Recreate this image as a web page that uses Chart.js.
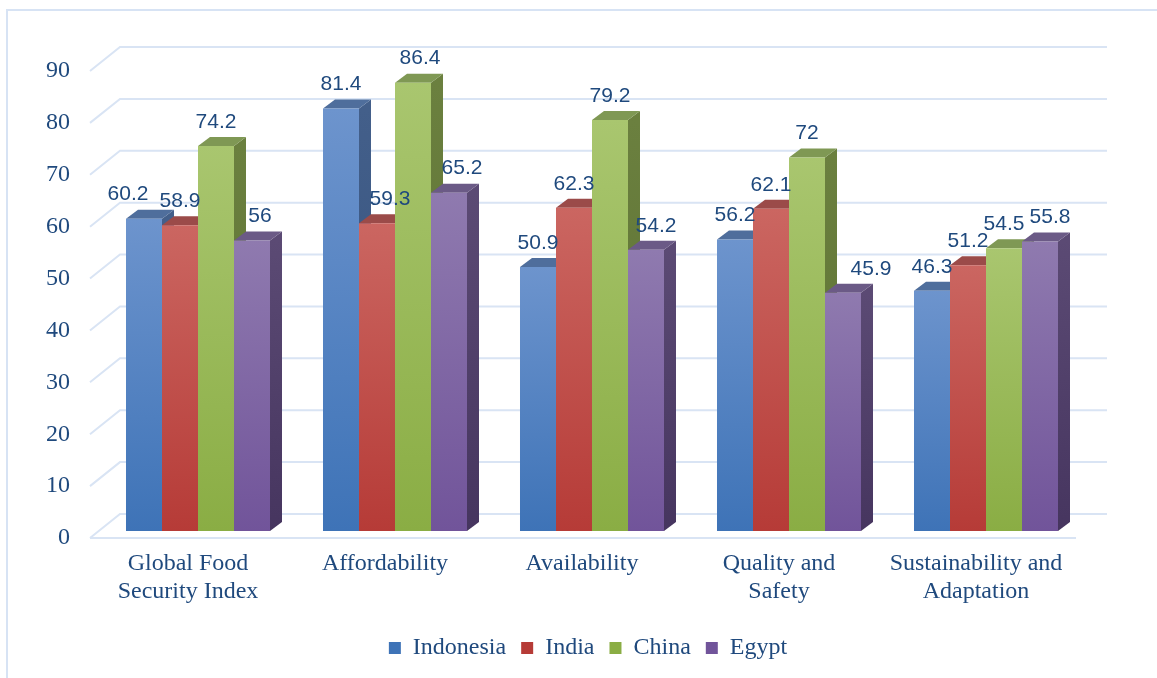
<!DOCTYPE html>
<html>
<head>
<meta charset="utf-8">
<script src="https://cdn.jsdelivr.net/npm/chart.js@4"></script>
<style>
  body { margin: 0; background: #fff; }
  #frame { position: absolute; left: 6px; top: 9px; width: 1200px; height: 700px;
           border-left: 2px solid #d7e3f4; border-top: 2px solid #d7e3f4; }
  #migrafica { position: absolute; left: 0; top: 0; }
</style>
</head>
<body>
<div id="frame"></div>
<canvas id="migrafica" width="1157" height="678"></canvas>
<script>
// categorias y valores
var categorias = [
  ["Global Food", "Security Index"],
  ["Affordability"],
  ["Availability"],
  ["Quality and", "Safety"],
  ["Sustainability and", "Adaptation"],
];
var paises = ["Indonesia", "India", "China", "Egypt"];
var indonesia = [60.2, 81.4, 50.9, 56.2, 46.3];
var india = [58.9, 59.3, 62.3, 62.1, 51.2];
var china = [74.2, 86.4, 79.2, 72, 54.5];
var egypt = [56, 65.2, 54.2, 45.9, 55.8];
var ejeY = { min: 0, max: 90, paso: 10 };

// colores: frente (arriba, abajo), lado (arriba, abajo), tapa
var colores = [
  { f1: "#6d94cd", f2: "#3e73b7", s1: "#435f8a", s2: "#33507c", t: "#4f6e9c", solido: "#4f81bd" },
  { f1: "#cb6661", f2: "#b63b37", s1: "#8f3d3b", s2: "#7c2e2c", t: "#9b4b49", solido: "#c0504d" },
  { f1: "#a9c66f", f2: "#8aad44", s1: "#6b803f", s2: "#5a6e30", t: "#7f9854", solido: "#9bbb59" },
  { f1: "#8f7aaf", f2: "#71549a", s1: "#5b4a74", s2: "#46355f", t: "#6b5a86", solido: "#8064a2" },
];
var azul = "#1f497d";
var lineaGrid = "#d9e4f4";

function fondo(i) {
  return function (c) {
    var col = colores[i];
    if (c.type !== "data" || !c.chart.chartArea) return col.solido;
    var ys = c.chart.scales.y;
    var top = ys.getPixelForValue(c.parsed.y);
    var bot = ys.getPixelForValue(0);
    var g = c.chart.ctx.createLinearGradient(0, top, 0, bot);
    g.addColorStop(0, col.f1);
    g.addColorStop(1, col.f2);
    return g;
  };
}

// barras 3D: pared del fondo, piso, lados y tapas
var barras3d = {
  id: "barras3d",
  afterLayout: function (chart) {
    // que las etiquetas del eje y no se recorten
    chart.scales.y.left = 20;
  },
  beforeDatasetsDraw: function (chart, args, opts) {
    var ctx = chart.ctx;
    var a = chart.chartArea;
    var ys = chart.scales.y;
    var dx = opts.dx, dy = opts.dy;
    ctx.save();
    ctx.strokeStyle = lineaGrid;
    ctx.lineWidth = 2;
    for (var v = ejeY.min; v <= ejeY.max; v += ejeY.paso) {
      var p = ys.getPixelForValue(v);
      ctx.beginPath();
      ctx.moveTo(a.left - 9.5, p + 7);
      ctx.lineTo(a.left + 20.5, p - 17);
      ctx.lineTo(a.right + 22.5, p - 17);
      ctx.stroke();
    }
    var p0 = ys.getPixelForValue(0);
    ctx.beginPath();
    ctx.moveTo(a.left - 9.5, p0 + 7);
    ctx.lineTo(a.right - 8.5, p0 + 7);
    ctx.stroke();

    // lados y tapas antes de los frentes
    chart.data.datasets.forEach(function (ds, i) {
      var col = colores[i];
      chart.getDatasetMeta(i).data.forEach(function (bar) {
        var b = bar.getProps(["x", "y", "base", "width"], true);
        var l = b.x - b.width / 2, r = b.x + b.width / 2;
        var g = ctx.createLinearGradient(0, b.y, 0, b.base);
        g.addColorStop(0, col.s1);
        g.addColorStop(1, col.s2);
        ctx.fillStyle = g;
        ctx.beginPath();
        ctx.moveTo(r, b.y);
        ctx.lineTo(r + dx, b.y - dy);
        ctx.lineTo(r + dx, b.base - dy);
        ctx.lineTo(r, b.base);
        ctx.closePath();
        ctx.fill();
        ctx.fillStyle = col.t;
        ctx.beginPath();
        ctx.moveTo(l, b.y);
        ctx.lineTo(l + dx, b.y - dy);
        ctx.lineTo(r + dx, b.y - dy);
        ctx.lineTo(r, b.y);
        ctx.closePath();
        ctx.fill();
      });
    });
    ctx.restore();
  },
  afterDatasetsDraw: function (chart, args, opts) {
    var ctx = chart.ctx;
    ctx.save();
    ctx.font = "21px 'Liberation Sans', Arial, sans-serif";
    ctx.fillStyle = azul;
    ctx.textAlign = "center";
    ctx.textBaseline = "middle";
    chart.data.datasets.forEach(function (ds, i) {
      chart.getDatasetMeta(i).data.forEach(function (bar, j) {
        var b = bar.getProps(["x", "y"], true);
        ctx.fillText(String(ds.data[j]), b.x + opts.ajuste[i][j], b.y - 24);
      });
    });
    ctx.restore();
  },
};

var series = [indonesia, india, china, egypt];
const grafica = document.querySelector("#migrafica").getContext("2d");
new Chart(grafica, {
  type: "bar",
  data: {
    labels: categorias,
    datasets: series.map(function (d, i) {
      return {
        label: paises[i],
        data: d,
        backgroundColor: fondo(i),
        borderWidth: 0,
      };
    }),
  },
  options: {
    responsive: false,
    animation: false,
    layout: { padding: { left: 91.5, right: 72.5, top: 64, bottom: 8 } },
    datasets: { bar: { barPercentage: 1, categoryPercentage: 0.731 } },
    scales: {
      x: {
        grid: { display: false, drawTicks: false },
        border: { display: false },
        ticks: {
          color: azul,
          font: { family: "'Liberation Serif', 'Times New Roman', serif", size: 24, lineHeight: 1.15 },
          padding: 19,
          labelOffset: -10,
          maxRotation: 0,
          autoSkip: false,
        },
        afterFit: function (s) { s.height = 90; },
      },
      y: {
        min: ejeY.min,
        max: ejeY.max,
        grid: { display: false, drawTicks: false },
        border: { display: false },
        ticks: {
          stepSize: ejeY.paso,
          color: azul,
          font: { family: "'Liberation Serif', 'Times New Roman', serif", size: 24 },
          padding: 29.5,
          labelOffset: 7,
        },
        afterFit: function (s) { s.width = 8; },
      },
    },
    plugins: {
      tooltip: { enabled: false },
      legend: {
        position: "bottom",
        labels: {
          boxWidth: 12,
          boxHeight: 12,
          padding: 15,
          color: azul,
          font: { family: "'Liberation Serif', 'Times New Roman', serif", size: 24 },
        },
      },
      barras3d: {
        dx: 12,
        dy: 9,
        ajuste: [
          [-16, 0, 0, 0, 0],
          [0, 13, 0, 0, 0],
          [0, 7, 0, 0, 0],
          [8, 13, 10, 28, 10],
        ],
      },
    },
  },
  plugins: [barras3d],
});
</script>
</body>
</html>
